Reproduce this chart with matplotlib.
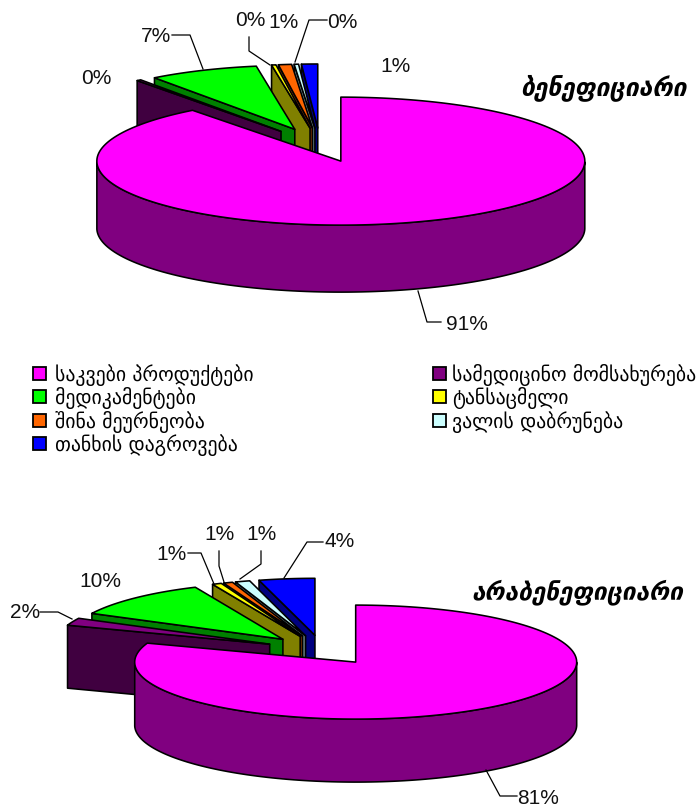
import numpy as np
import matplotlib
matplotlib.use("Agg")
import matplotlib.pyplot as plt
from matplotlib.patches import Polygon, Rectangle

categories = ["საკვები პროდუქტები", "სამედიცინო მომსახურება", "მედიკამენტები", "ტანსაცმელი",
              "შინა მეურნეობა", "ვალის დაბრუნება", "თანხის დაგროვება"]
# shares, the printed labels are rounded by the source chart
beneficiary = [89.6, 0.3, 7.5, 0.3, 0.9, 0.3, 1.1]
non_beneficiary = [80.4, 2.1, 10.8, 0.7, 0.7, 1.1, 4.2]
beneficiary_labels = ["91%", "0%", "7%", "0%", "1%", "0%", "1%"]
non_beneficiary_labels = ["81%", "2%", "10%", "1%", "1%", "1%", "4%"]

top_colors = ["#FF00FF", "#800080", "#00FF00", "#FFFF00", "#FF6600", "#CCFFFF", "#0000FF"]
side_colors = ["#800080", "#400040", "#008000", "#808000", "#803300", "#668080", "#000080"]

plt.rcParams['font.family'] = ['Liberation Sans', 'DejaVu Sans']

fig = plt.figure(figsize=(6.97, 8.12), dpi=100)
ax = fig.add_axes([0, 0, 1, 1])
ax.set_xlim(0, 697)
ax.set_ylim(812, 0)
ax.axis("off")


def face(points, color, z):
    ax.add_patch(Polygon(points, closed=True, facecolor=color, edgecolor="black",
                         linewidth=1.15, joinstyle="round", zorder=z))


def draw_pie(values, cx, cy, a, b, depth, explode):
    values = np.array(values, dtype=float)
    angles = np.radians(np.cumsum(np.r_[0, values]) / values.sum() * 360)
    # counter clockwise from the top, so each slice hides the side of the one before it
    order = list(range(len(values) - 1, -1, -1))
    for z, i in enumerate(order):
        start, end = angles[i], angles[i + 1]
        mid = (start + end) / 2
        ox = cx + a * explode * np.sin(mid)
        oy = cy - b * explode * np.cos(mid)
        # the far slices look a little narrower in the source's perspective
        width = a if i == 0 else a * 0.97
        t = np.linspace(start, end, 200)
        arc = np.c_[ox + width * np.sin(t), oy - b * np.cos(t)]
        down = np.array([0, depth])
        apex = np.array([ox, oy])
        # only the cut faces that look down at the viewer
        if np.sin(start) < 0:
            face([apex, arc[0], arc[0] + down, apex + down], side_colors[i], 10 + z)
        if np.sin(end) > 0:
            face([apex, arc[-1], arc[-1] + down, apex + down], side_colors[i], 10 + z)
        front = arc[np.cos(t) < 0]
        if len(front) > 1:
            face(np.r_[front, front[::-1] + down], side_colors[i], 10 + z)
        face(np.r_[[apex], arc], top_colors[i], 10 + z)


def leader(points):
    xs, ys = zip(*points)
    ax.plot(xs, ys, color="black", linewidth=0.9, zorder=30)


draw_pie(beneficiary, 320, 146, 244, 64, 67, 0.266)
draw_pie(non_beneficiary, 322.5, 651, 221, 57, 63, 0.26)

top_label_pos = [(467, 325), (396, 66), (96, 79), (156, 36), (250, 21), (283, 23), (342, 22)]
top_label_order = [0, 6, 1, 2, 3, 4, 5]
for pos, i in zip(top_label_pos, top_label_order):
    ax.text(pos[0], pos[1], beneficiary_labels[i], fontsize=15, ha="center", va="center", color="#111111", zorder=40)

bottom_label_pos = [(538, 799), (25, 613), (100, 582), (171, 555), (220, 535), (262, 535), (340, 542)]
for pos, lab in zip(bottom_label_pos, non_beneficiary_labels):
    ax.text(pos[0], pos[1], lab, fontsize=15, ha="center", va="center", color="#111111", zorder=40)

leader([(172, 36), (190, 36), (203, 70)])
leader([(249, 38), (249, 52), (270, 66)])
leader([(327, 21), (309, 21), (295, 63)])
leader([(441, 323), (427, 323), (418, 292)])
leader([(40, 613), (58, 613), (72, 620)])
leader([(188, 554), (201, 554), (214, 585)])
leader([(219, 552), (219, 567), (224, 583)])
leader([(261, 552), (261, 565), (240, 580)])
leader([(323, 543), (307, 543), (284, 579)])
leader([(517, 797), (500, 797), (486, 771)])

ax.text(604, 88, "ბენეფიციარი", fontsize=17.7, style="italic", weight="bold", family="DejaVu Sans",
        ha="center", va="center", zorder=40)
ax.text(577, 592, "არაბენეფიციარი", fontsize=17.6, style="italic", weight="bold", family="DejaVu Sans",
        ha="center", va="center", zorder=40)

# legend, two columns, filled row by row
rows = [375, 398, 422, 445]
legend_pos = [(33, rows[0]), (433, rows[0]), (33, rows[1]), (433, rows[1]),
              (33, rows[2]), (433, rows[2]), (33, rows[3])]
for i, (x, y) in enumerate(legend_pos):
    ax.add_patch(Rectangle((x, y - 7), 13, 13, facecolor=top_colors[i], edgecolor="black", linewidth=1.3, zorder=20))
    ax.text(x + 22 - (3 if x > 100 else 0), y, categories[i], fontsize=14.2, family="DejaVu Sans", ha="left", va="center", zorder=20)

fig.savefig("out.png", dpi=100)
